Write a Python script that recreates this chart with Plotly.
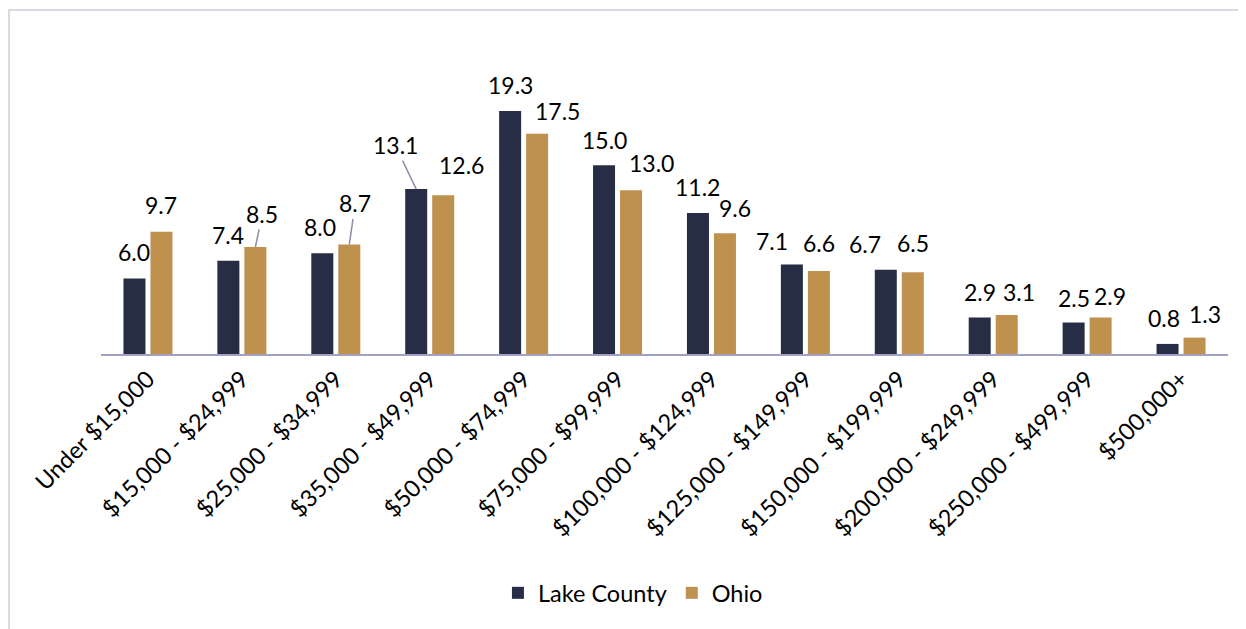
import plotly.graph_objects as go

categories = ["Under $15,000", "$15,000 - $24,999", "$25,000 - $34,999", "$35,000 - $49,999",
              "$50,000 - $74,999", "$75,000 - $99,999", "$100,000 - $124,999", "$125,000 - $149,999",
              "$150,000 - $199,999", "$200,000 - $249,999", "$250,000 - $499,999", "$500,000+"]
lake_county = [6.0, 7.4, 8.0, 13.1, 19.3, 15.0, 11.2, 7.1, 6.7, 2.9, 2.5, 0.8]
ohio = [9.7, 8.5, 8.7, 12.6, 17.5, 13.0, 9.6, 6.6, 6.5, 3.1, 2.9, 1.3]

# label placement (pixel offsets from bar top-centre: dx, dy up, leader line flag)
lake_label_off = [(0, 26, 0), (0, 26, 0), (-2, 26, 0), (-21, 44, 1), (0, 26, 0), (0, 25, 0),
                  (0, 26, 0), (-20, 24, 0), (-21, 26, 0), (0, 25, 0), (0, 25, 0), (-4, 26, 0)]
ohio_label_off = [(0, 27, 0), (7, 33, 1), (6, 41, 1), (18, 30, 0), (20, 23, 0), (20, 27, 0),
                  (10, 25, 0), (0, 28, 0), (0, 29, 0), (12, 23, 0), (9, 21, 0), (10, 24, 0)]

NAVY = "#272D45"
GOLD = "#BE914F"
FONT = "Lato"
LABEL_SIZE = 23
TICK_SIZE = 23.5
BAR_OFF = 13.5  # px offset of each bar centre from the category centre

fig = go.Figure()
fig.add_trace(go.Bar(x=categories, y=lake_county, name="Lake County", marker_color=NAVY,
                     marker_line_width=0))
fig.add_trace(go.Bar(x=categories, y=ohio, name="Ohio", marker_color=GOLD,
                     marker_line_width=0))

annotations = []
for vals, offs, side in ((lake_county, lake_label_off, -1), (ohio, ohio_label_off, 1)):
    for cat, v, (dx, dy, lead) in zip(categories, vals, offs):
        if lead:
            annotations.append(dict(
                x=cat, y=v, xref="x", yref="y", text=f"{v:.1f}",
                xshift=side * BAR_OFF, showarrow=True, arrowhead=0, arrowwidth=1.5,
                arrowcolor="#8E8CAA", ax=dx, ay=-dy,
                font=dict(family=FONT, size=LABEL_SIZE, color="black")))
        else:
            annotations.append(dict(
                x=cat, y=v, xref="x", yref="y", text=f"{v:.1f}",
                xshift=side * BAR_OFF + dx, yshift=dy, showarrow=False,
                xanchor="center", yanchor="middle",
                font=dict(family=FONT, size=LABEL_SIZE, color="black")))

fig.update_layout(
    width=1238, height=621,
    margin=dict(l=93, r=18, t=69, b=275),
    paper_bgcolor="white", plot_bgcolor="white",
    barmode="group", bargap=0.425, bargroupgap=0.185,
    font=dict(family=FONT, size=TICK_SIZE, color="black"),
    showlegend=True,
    legend=dict(orientation="h", x=0.472, xanchor="center", y=-0.863, yanchor="middle",
                font=dict(family=FONT, size=TICK_SIZE, color="black"), itemwidth=30,
                traceorder="normal"),
    annotations=annotations,
    shapes=[dict(type="rect", xref="paper", yref="paper", x0=-0.0816, x1=1.1, y0=-1.2, y1=1.242,
                 line=dict(color="#D9D9E1", width=2), fillcolor="rgba(0,0,0,0)", layer="below")],
)
fig.update_xaxes(showline=True, linecolor="#A3A1C2", linewidth=2, tickangle=-45, ticks="",
                 tickfont=dict(family=FONT, size=TICK_SIZE, color="black"), showgrid=False)
fig.update_yaxes(visible=False, range=[0, 22], showgrid=False)

fig.write_html("out.html")
